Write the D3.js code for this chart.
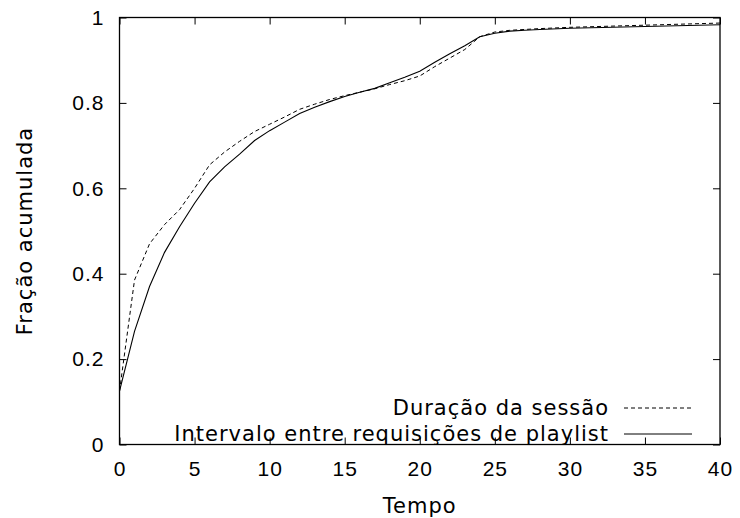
<!DOCTYPE html>
<html>
<head>
<meta charset="utf-8">
<script src="https://cdn.jsdelivr.net/npm/d3@7"></script>
<style>
  body { margin: 0; background: #fff; }
  svg { display: block; font-family: "DejaVu Sans", sans-serif; }
  svg text { letter-spacing: 1px; }
</style>
</head>
<body>
<div id="chart"></div>
<script>
const tempo = [0, 1, 2, 3, 4, 5, 6, 7, 8, 9, 10, 11, 12, 13, 14, 15, 16, 17, 18, 19, 20,
  21, 22, 23, 24, 25, 26, 27, 28, 30, 35, 40];
const duracaoSessao = [0.125, 0.385, 0.47, 0.515, 0.55, 0.6, 0.655, 0.685, 0.71, 0.733, 0.75,
  0.767, 0.785, 0.797, 0.808, 0.817, 0.825, 0.833, 0.843, 0.852, 0.863,
  0.885, 0.905, 0.925, 0.955, 0.966, 0.97, 0.972, 0.974, 0.977, 0.982, 0.987];
const intervaloPlaylist = [0.125, 0.265, 0.37, 0.45, 0.51, 0.565, 0.615, 0.65, 0.68, 0.712, 0.735,
  0.755, 0.775, 0.79, 0.803, 0.815, 0.825, 0.834, 0.847, 0.86, 0.874,
  0.895, 0.915, 0.934, 0.955, 0.963, 0.968, 0.97, 0.972, 0.975, 0.979, 0.983];
const xTicks = [0, 5, 10, 15, 20, 25, 30, 35, 40];
const yTicks = [0, 0.2, 0.4, 0.6, 0.8, 1];
const seriesNames = ['Duração da sessão', 'Intervalo entre requisições de playlist'];

const width = 740, height = 518;
const margin = { left: 119.5, right: 20, top: 17.5, bottom: 73.5 };
const fontSize = 21;

const svg = d3.select('#chart').append('svg')
  .attr('width', width)
  .attr('height', height);

const x = d3.scaleLinear().domain([0, 40]).range([margin.left, width - margin.right]);
const y = d3.scaleLinear().domain([0, 1]).range([height - margin.bottom, margin.top]);

const fmtY = d => d === 0 || d === 1 ? String(d) : d3.format('.1f')(d);

// frame with mirrored ticks
const tickLen = 7;
const axisStyle = g => {
  g.select('.domain').remove();
  g.selectAll('.tick line').attr('stroke', '#000');
  g.selectAll('.tick text').attr('fill', '#000').attr('font-size', fontSize);
};
svg.append('g')
  .attr('transform', `translate(0,${y(0)})`)
  .call(d3.axisBottom(x).tickValues(xTicks).tickSize(-tickLen).tickPadding(17))
  .call(axisStyle);
svg.append('g')
  .attr('transform', `translate(0,${y(1)})`)
  .call(d3.axisTop(x).tickValues(xTicks).tickSize(-tickLen).tickFormat(''))
  .call(axisStyle);
svg.append('g')
  .attr('transform', `translate(${x(0)},0)`)
  .call(d3.axisLeft(y).tickValues(yTicks).tickSize(-tickLen).tickPadding(15).tickFormat(fmtY))
  .call(axisStyle);
svg.append('g')
  .attr('transform', `translate(${x(40)},0)`)
  .call(d3.axisRight(y).tickValues(yTicks).tickSize(-tickLen).tickFormat(''))
  .call(axisStyle);

svg.append('rect')
  .attr('x', x(0)).attr('y', y(1))
  .attr('width', x(40) - x(0)).attr('height', y(0) - y(1))
  .attr('fill', 'none').attr('stroke', '#000').attr('stroke-width', 1.3);

const line = d3.line().x((d, i) => x(tempo[i])).y(d => y(d));
const dashes = '4,3';

svg.append('path')
  .attr('d', line(duracaoSessao))
  .attr('fill', 'none').attr('stroke', '#000').attr('stroke-width', 1)
  .attr('stroke-dasharray', dashes);
svg.append('path')
  .attr('d', line(intervaloPlaylist))
  .attr('fill', 'none').attr('stroke', '#000').attr('stroke-width', 1.1);

// legend
const legend = svg.append('g');
const legY = [408, 434];
seriesNames.forEach((name, i) => {
  legend.append('text')
    .attr('x', 609).attr('y', legY[i]).attr('dy', '0.35em')
    .attr('text-anchor', 'end').attr('font-size', fontSize)
    .text(name);
  legend.append('line')
    .attr('x1', 624).attr('x2', 692).attr('y1', legY[i]).attr('y2', legY[i])
    .attr('stroke', '#000').attr('stroke-width', 1)
    .attr('stroke-dasharray', i === 0 ? dashes : null);
});

svg.append('text')
  .attr('x', (x(0) + x(40)) / 2).attr('y', 506).attr('dy', '0.35em')
  .attr('text-anchor', 'middle').attr('font-size', fontSize)
  .text('Tempo');
svg.append('text')
  .attr('transform', `translate(25,${(y(0) + y(1)) / 2}) rotate(-90)`)
  .attr('dy', '0.35em')
  .attr('text-anchor', 'middle').attr('font-size', fontSize)
  .text('Fração acumulada');
</script>
</body>
</html>
